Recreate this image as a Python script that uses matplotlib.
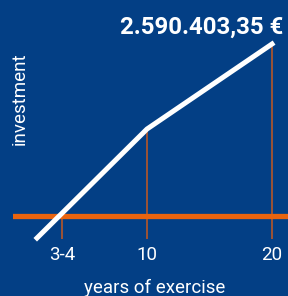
import matplotlib
matplotlib.use("Agg")
import matplotlib.pyplot as plt

# data (investment in euro)
years = [1.2, 10, 20]
investment = [-331000, 1310000, 2590403.35]
tick_years = [3.2, 10, 20]
tick_labels = ["3-4", "10", "20"]
tick_values = [0, 1310000, 2590403.35]
final_label = "2.590.403,35 €"

BG = "#033f85"
ORANGE = "#ea640f"
DARK_ORANGE = "#c8581e"

plt.rcParams["font.family"] = ["Roboto", "DejaVu Sans"]

fig = plt.figure(figsize=(2.88, 2.96), dpi=100, facecolor=BG)
ax = fig.add_axes([13 / 288, 1 - 239 / 296, 1 - 13 / 288, 239 / 296])
ax.set_facecolor(BG)
ax.set_xlim(-0.72, 21.28)
ylo, yhi = -346000, 3253000
ax.set_ylim(ylo, yhi)

ax.axhline(0, color=ORANGE, lw=3.8, zorder=2)
ax.vlines(tick_years, ylo, tick_values, color=DARK_ORANGE, lw=1.1, zorder=1)
ax.plot(years, investment, color="white", lw=3.6, solid_capstyle="projecting",
        solid_joinstyle="miter", clip_on=False, zorder=3)

ax.set_xticks(tick_years, tick_labels)
ax.tick_params(axis="x", length=0, pad=5, labelsize=13.5, labelcolor="white")
ax.set_yticks([])
for s in ax.spines.values():
    s.set_visible(False)

fig.text(155 / 288, 1 - 288 / 296, "years of exercise", color="white",
         fontsize=13.5, ha="center", va="center")
fig.text(20 / 288, 1 - 99 / 296, "investment", color="white", fontsize=13.5,
         rotation=90, ha="center", va="center")
fig.text(283 / 288, 1 - 27 / 296, final_label, color="white", fontsize=17.3,
         fontweight="bold", ha="right", va="center")

fig.savefig("out.png", dpi=100, facecolor=BG)
